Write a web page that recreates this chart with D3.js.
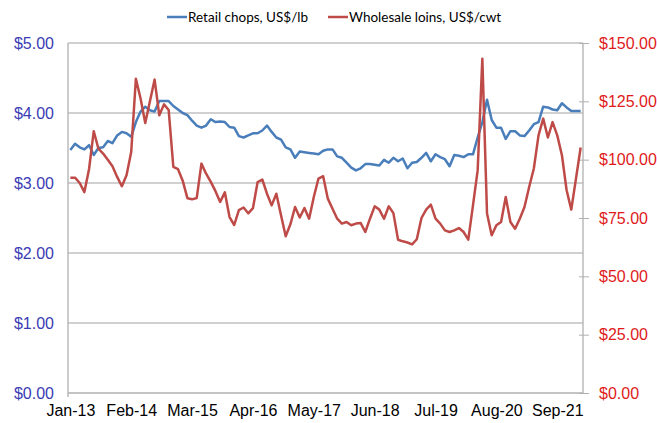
<!DOCTYPE html>
<html>
<head>
<meta charset="utf-8">
<script src="https://cdn.jsdelivr.net/npm/d3@7"></script>
<style>
  body { margin: 0; background: #fff; }
  svg { font-family: Lato, "Open Sans", sans-serif; }
</style>
</head>
<body>
<svg id="chart" width="657" height="423"></svg>
<script>
// Monthly series, Jan 2013 through Feb 2022 (110 months)
const startMonth = new Date(2013, 0, 1);

// Retail pork chops, US$/lb (left axis)
const retailChops = [
  3.47, 3.56, 3.51, 3.48, 3.54, 3.40, 3.50, 3.51, 3.60, 3.57,
  3.68, 3.73, 3.71, 3.66, 3.87, 4.02, 4.09, 4.04, 4.02, 4.17,
  4.17, 4.17, 4.10, 4.05, 4.00, 3.97, 3.89, 3.82, 3.79, 3.82,
  3.91, 3.87, 3.88, 3.87, 3.80, 3.79, 3.67, 3.65, 3.68, 3.71,
  3.71, 3.75, 3.82, 3.73, 3.65, 3.62, 3.51, 3.48, 3.36, 3.45,
  3.44, 3.43, 3.42, 3.41, 3.46, 3.48, 3.48, 3.38, 3.36, 3.29,
  3.22, 3.18, 3.21, 3.27, 3.27, 3.26, 3.25, 3.33, 3.29, 3.36,
  3.31, 3.35, 3.21, 3.29, 3.30, 3.36, 3.43, 3.31, 3.41, 3.37,
  3.34, 3.24, 3.40, 3.39, 3.37, 3.41, 3.41, 3.65, 3.87, 4.19,
  3.90, 3.79, 3.79, 3.63, 3.74, 3.74, 3.68, 3.67, 3.75, 3.84,
  3.87, 4.09, 4.08, 4.05, 4.04, 4.14, 4.08, 4.03, 4.03, 4.03
];

// Wholesale pork loins, US$/cwt (right axis)
const wholesaleLoins = [
  92.3, 92.3, 90.0, 86.1, 96.0, 112.2, 104.7, 102.6, 100.0, 97.2,
  92.6, 88.6, 93.3, 103.3, 134.7, 126.2, 115.7, 125.0, 134.3, 119.0,
  123.7, 121.3, 96.9, 95.9, 91.0, 83.5, 83.0, 83.6, 98.3, 94.0,
  90.5, 86.5, 81.9, 86.0, 75.4, 72.0, 78.4, 79.5, 77.0, 79.2,
  90.4, 91.5, 85.4, 80.4, 85.4, 76.2, 67.2, 72.3, 79.7, 75.2,
  79.3, 74.7, 84.0, 91.9, 92.9, 83.3, 79.0, 74.7, 72.6, 73.3,
  71.9, 72.6, 72.9, 69.0, 74.7, 80.0, 78.6, 74.7, 80.0, 77.1,
  65.7, 65.0, 64.5, 63.7, 65.9, 75.0, 78.6, 80.7, 74.7, 72.6,
  69.7, 69.0, 69.7, 70.7, 69.0, 65.7, 80.4, 95.4, 143.3, 76.9,
  67.6, 71.9, 73.3, 84.0, 73.3, 70.4, 74.7, 79.7, 88.3, 96.2,
  110.4, 117.6, 109.5, 116.1, 110.4, 101.9, 86.9, 78.6, 91.9, 105.2
];

const leftTicks = [0, 1, 2, 3, 4, 5];
const rightTicks = [0, 25, 50, 75, 100, 125, 150];
const labelEvery = 13;

const seriesNames = ["Retail chops, US$/lb", "Wholesale loins, US$/cwt"];
const blue = "#4a7ebb";
const red = "#be4b48";

// plot area
const margin = { left: 68, right: 74, top: 43, bottom: 30 };
const width = 657, height = 423;
const x0 = margin.left, x1 = width - margin.right;
const y0 = height - margin.bottom, y1 = margin.top;

const fmtMonth = d3.timeFormat("%b-%y");
const months = d3.range(retailChops.length).map(i => d3.timeMonth.offset(startMonth, i));

const x = d3.scalePoint()
    .domain(months.map(fmtMonth))
    .range([x0, x1])
    .padding(0.5);

const yLeft = d3.scaleLinear().domain([0, 5]).range([y0, y1]);
const yRight = d3.scaleLinear().domain([0, 150]).range([y0, y1]);

const svg = d3.select("#chart");

// horizontal gridlines from the left axis
svg.append("g")
    .selectAll("line")
    .data(leftTicks.slice(1))
    .enter()
    .append("line")
    .attr("x1", x0).attr("x2", x1)
    .attr("y1", d => yLeft(d)).attr("y2", d => yLeft(d))
    .style("stroke", "#c0c0c0")
    .style("stroke-width", 1.3);

// left axis labels
svg.append("g")
    .attr("transform", `translate(${x0},0)`)
    .call(d3.axisLeft(yLeft).tickValues(leftTicks).tickSize(0).tickPadding(14)
        .tickFormat(d => "$" + d.toFixed(2)))
    .call(g => g.select(".domain").remove())
    .selectAll("text")
    .style("font-size", "16px")
    .style("fill", "#3b3bb5");

// right axis with cross ticks
svg.append("g")
    .attr("transform", `translate(${x1},0)`)
    .call(d3.axisRight(yRight).tickValues(rightTicks).tickSize(6).tickPadding(10)
        .tickFormat(d => "$" + d.toFixed(2)))
    .call(g => g.select(".domain").remove())
    .call(g => g.selectAll(".tick line").attr("x1", -4).style("stroke", "#b0b0b0"))
    .selectAll("text")
    .style("font-size", "16px")
    .style("fill", "#e01b1b");

// axis frame lines
svg.append("line")
    .attr("x1", x0).attr("x2", x0).attr("y1", y1).attr("y2", y0 + 4)
    .style("stroke", "#b0b0b0").style("stroke-width", 1.3);
svg.append("line")
    .attr("x1", x1).attr("x2", x1).attr("y1", y1).attr("y2", y0)
    .style("stroke", "#b0b0b0").style("stroke-width", 1.3);
svg.append("line")
    .attr("x1", x0).attr("x2", x1).attr("y1", y0).attr("y2", y0)
    .style("stroke", "#b0b0b0").style("stroke-width", 1.3);

// bottom category labels
svg.append("g")
    .attr("transform", `translate(0,${y0})`)
    .call(d3.axisBottom(x)
        .tickValues(x.domain().filter((d, i) => i % labelEvery === 0))
        .tickSize(0).tickPadding(12))
    .call(g => g.select(".domain").remove())
    .selectAll("text")
    .style("font-size", "16px")
    .style("fill", "#000");

// lines
const lineLeft = d3.line()
    .x((d, i) => x(fmtMonth(months[i])))
    .y(d => yLeft(d));
const lineRight = d3.line()
    .x((d, i) => x(fmtMonth(months[i])))
    .y(d => yRight(d));

svg.append("path")
    .datum(retailChops)
    .attr("d", lineLeft)
    .style("fill", "none")
    .style("stroke", blue)
    .style("stroke-width", 2.5)
    .style("stroke-linejoin", "round");

svg.append("path")
    .datum(wholesaleLoins)
    .attr("d", lineRight)
    .style("fill", "none")
    .style("stroke", red)
    .style("stroke-width", 2.5)
    .style("stroke-linejoin", "round");

// legend
const legend = svg.append("g").attr("transform", "translate(167,17)");
const legendX = [0, 161];
legend.selectAll("g")
    .data(seriesNames)
    .enter()
    .append("g")
    .attr("transform", (d, i) => `translate(${legendX[i]},0)`)
    .each(function(d, i) {
        const g = d3.select(this);
        g.append("line")
            .attr("x1", 0).attr("x2", 20).attr("y1", 0).attr("y2", 0)
            .style("stroke", i === 0 ? blue : red)
            .style("stroke-width", 2.5);
        g.append("text")
            .attr("x", 21).attr("y", 0).attr("dy", "0.35em")
            .style("font-size", "13.5px")
            .style("fill", "#000")
            .text(d);
    });
</script>
</body>
</html>
